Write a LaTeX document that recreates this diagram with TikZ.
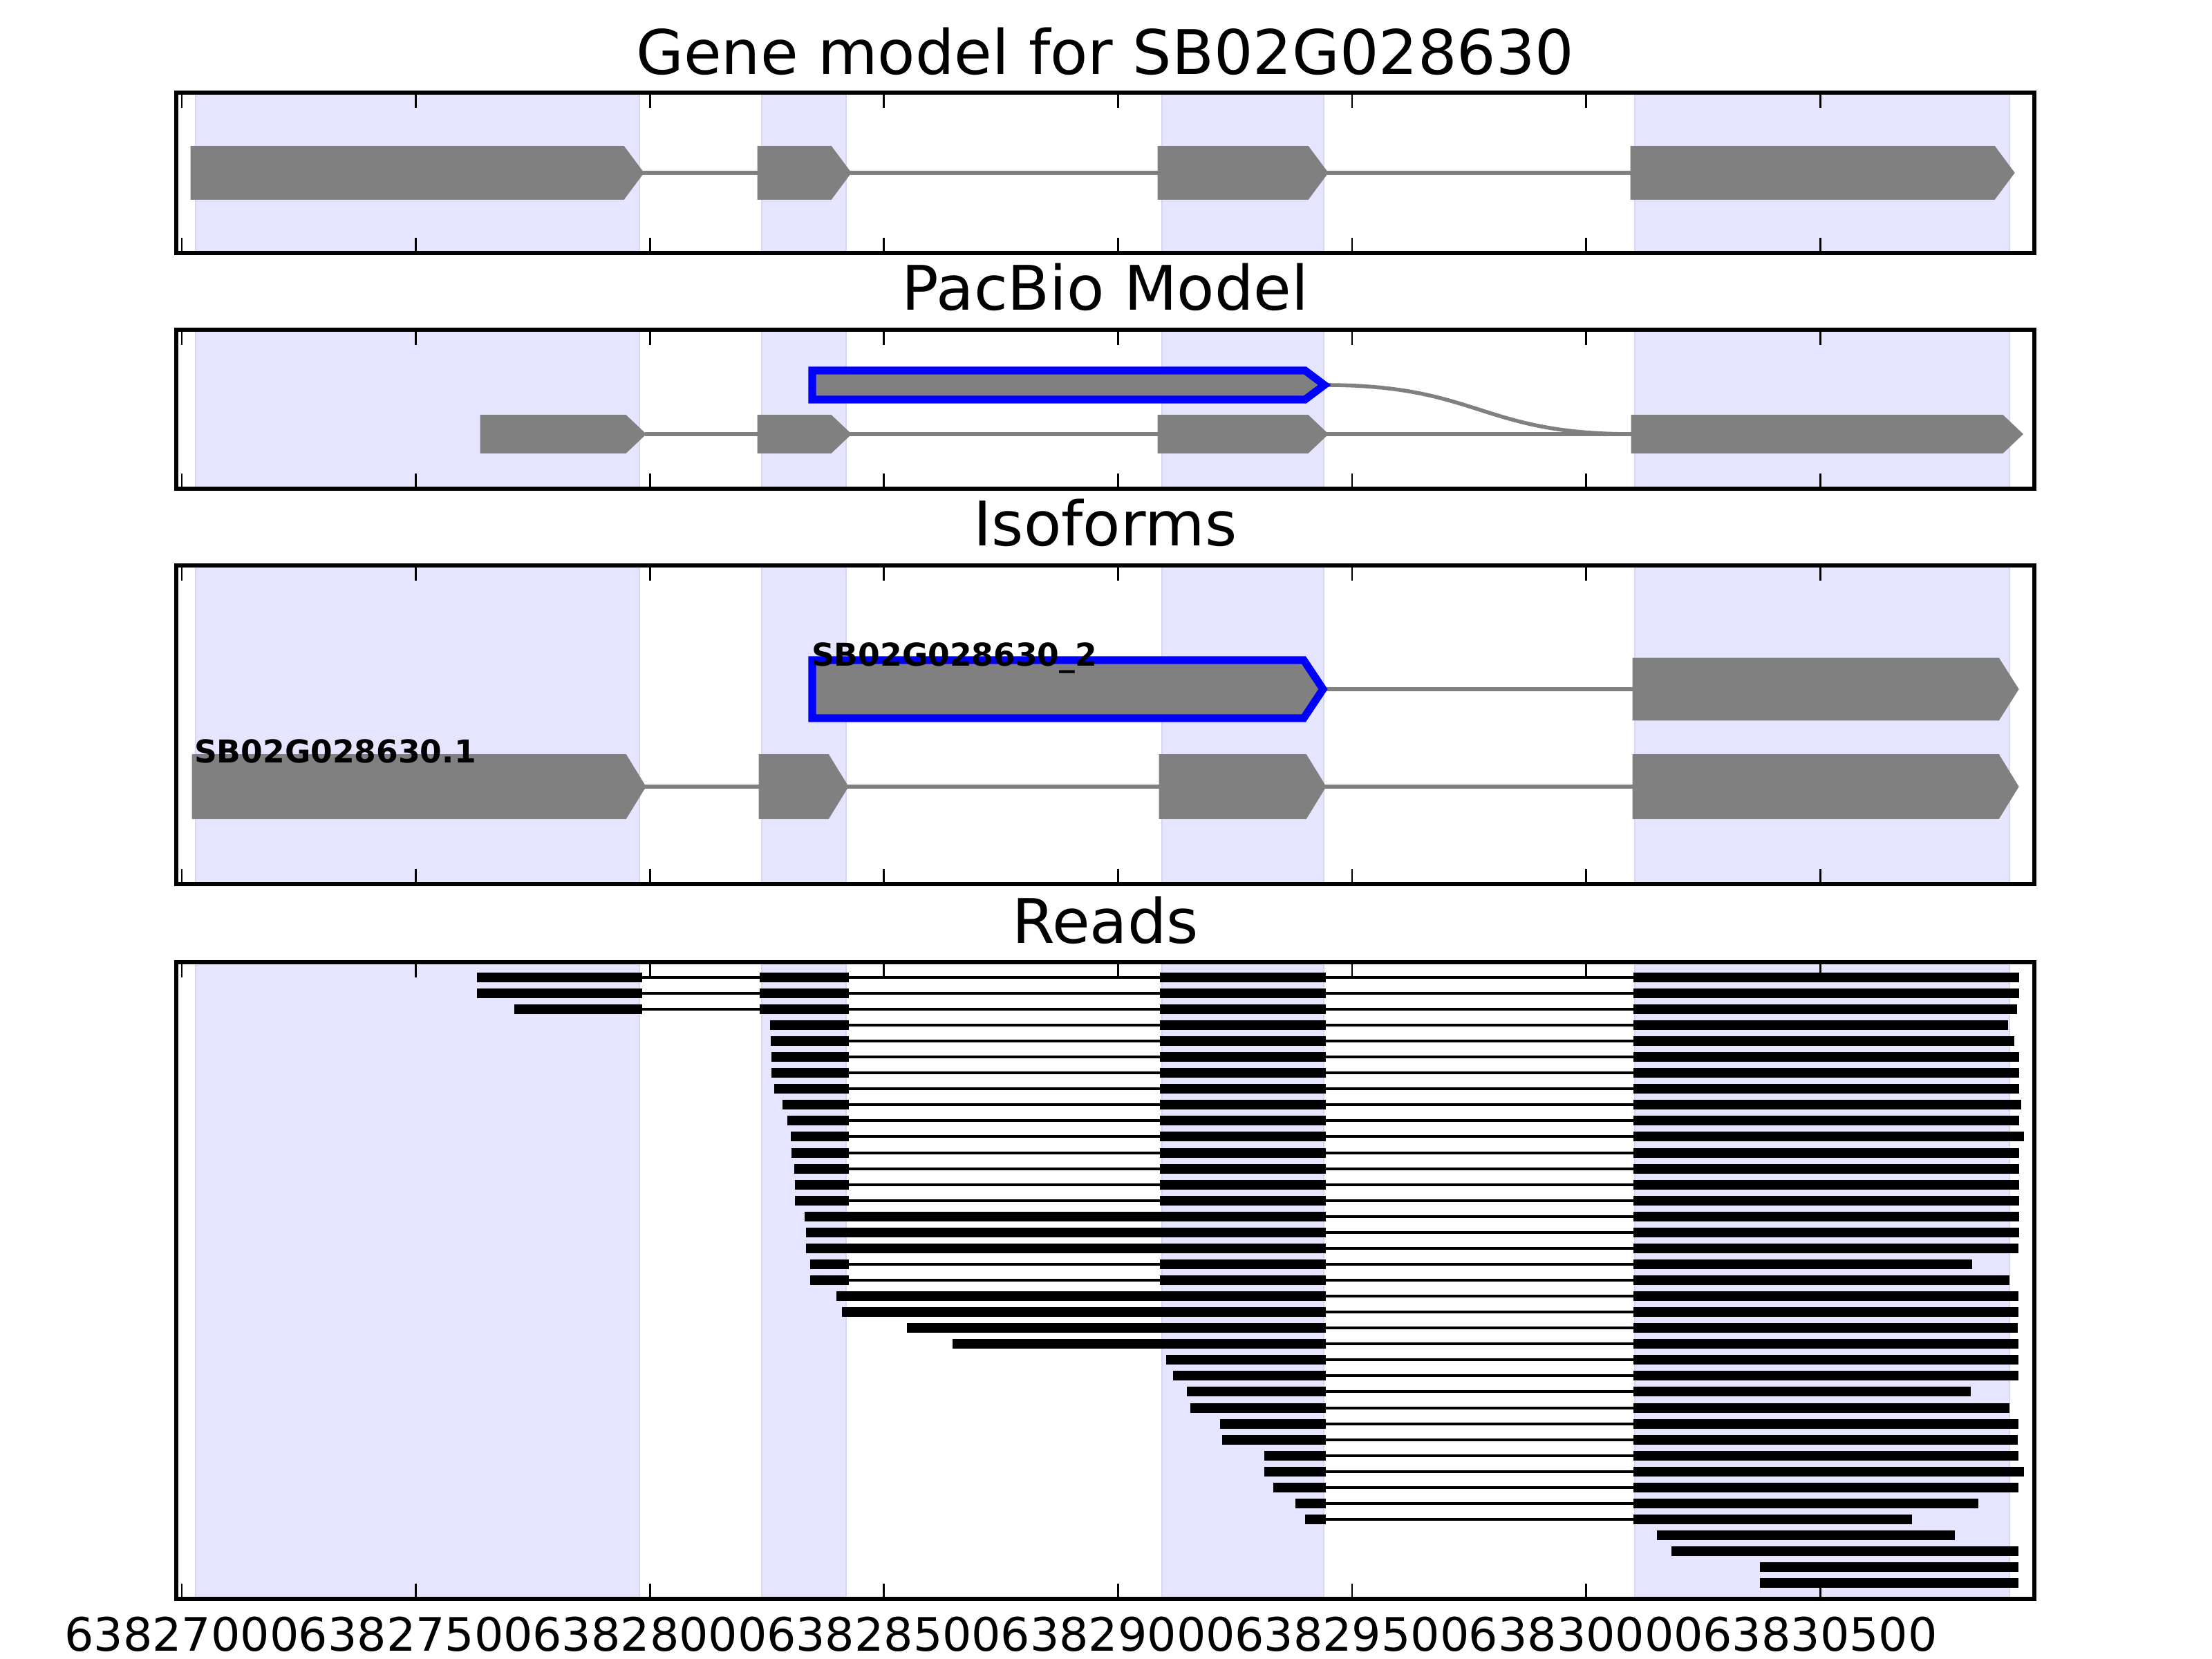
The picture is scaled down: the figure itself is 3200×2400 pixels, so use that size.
\documentclass[tikz,border=0pt]{standalone}
\usepackage{fontspec}
\setmainfont{DejaVu Sans}

\definecolor{spanblue}{RGB}{229,229,255}
\definecolor{spanedge}{RGB}{214,214,240}
\definecolor{exongray}{RGB}{128,128,128}

% exon arrow: [style] start, tip, centre y, half height
\newcommand{\geneexon}[5][exon]{%
  \filldraw[#1] (#2,#4-#5) -- (#3-28,#4-#5) -- (#3,#4) -- (#3-28,#4+#5) -- (#2,#4+#5) -- cycle;}

% shaded exon spans and ticks of one panel: top y, bottom y
\newcommand{\panelback}[2]{%
  \foreach \a/\b in {283/925,1102/1224,1681/1915,2365/2907}
    {\filldraw[exonspan] (\a,#1) rectangle (\b,#2);}
  \foreach \k in {0,...,7}
    {\draw[axistick] (263+338.6*\k,#1) -- ++(0,22);
     \draw[axistick] (263+338.6*\k,#2) -- ++(0,-22);}}

% one read: y, gap line from, gap line to, blocks
\newcommand{\readrow}[4]{%
  \draw[readline] (#2,#1) -- (#3,#1);
  \foreach \a/\b in {#4} {\fill[readbar] (\a,#1-7) rectangle (\b,#1+7);}}
\newcommand{\shortread}[3]{\fill[readbar] (#2,#1-7) rectangle (#3,#1+7);}

\begin{document}
\begin{tikzpicture}[
  x=0.18bp, y=-0.18bp,
  exonspan/.style={fill=spanblue, draw=spanedge, line width=0.5bp},
  exon/.style={fill=exongray, draw=exongray, line width=0.5bp},
  pacbio/.style={fill=exongray, draw=blue, line width=2bp},
  intron/.style={draw=exongray, line width=1bp},
  readbar/.style={fill=black},
  readline/.style={draw=black, line width=0.8bp},
  panelframe/.style={draw=black, line width=1bp},
  axistick/.style={draw=black, line width=0.5bp},
  paneltitle/.style={font=\fontsize{16bp}{19bp}\selectfont, anchor=base, inner sep=0pt},
  ticklabel/.style={font=\fontsize{12bp}{14bp}\selectfont, anchor=north, inner sep=0pt},
  isolabel/.style={font=\fontsize{8.2bp}{10bp}\selectfont\bfseries, anchor=base west, inner sep=0pt}
]
\useasboundingbox (0,0) rectangle (3200,2400);

% ============================================================
% Panel 1: gene model
% ============================================================

\node[paneltitle] (titlegene) at (1599,108) {Gene model for SB02G028630};
\panelback{134}{366}
\draw[intron] (930,250) -- (2360,250);
\geneexon{277}{930}{250}{37.5}
\geneexon{1097}{1230}{250}{37.5}
\geneexon{1676}{1920}{250}{37.5}
\geneexon{2360}{2913}{250}{37.5}
\draw[panelframe] (255,134) rectangle (2943,366);

% ============================================================
% Panel 2: PacBio model
% ============================================================

\node[paneltitle] (titlepacbio) at (1599,449) {PacBio Model};
\panelback{477}{707}
\draw[intron] (933,628) -- (2361,628);
\draw[intron] (1916,557) .. controls (2140,557) and (2140,628) .. (2361,628);
\geneexon[pacbio]{1175}{1916}{557}{21}
\geneexon{696}{933}{628}{26.5}
\geneexon{1097}{1230}{628}{26.5}
\geneexon{1676}{1920}{628}{26.5}
\geneexon{2361}{2925}{628}{26.5}
\draw[panelframe] (255,477) rectangle (2943,707);

% ============================================================
% Panel 3: isoforms
% ============================================================

\node[paneltitle] (titleiso) at (1599,790) {Isoforms};
\panelback{818}{1279}
\draw[intron] (1914,997) -- (2363,997);
\geneexon[pacbio]{1175}{1914}{997}{42}
\geneexon{2363}{2919}{997}{44}
\draw[intron] (933,1138) -- (2363,1138);
\geneexon{279}{933}{1138}{45.5}
\geneexon{1099}{1226}{1138}{45.5}
\geneexon{1678}{1917}{1138}{45.5}
\geneexon{2363}{2919}{1138}{45.5}
\node[isolabel] (isoshort) at (1173,964) {SB02G028630\_2};
\node[isolabel] (isolong) at (280,1104) {SB02G028630.1};
\draw[panelframe] (255,818) rectangle (2943,1279);

% ============================================================
% Panel 4: reads
% ============================================================

\node[paneltitle] (titlereads) at (1599,1365) {Reads};
\panelback{1392}{2313}

% full length reads
\readrow{1414}{929}{2363}{690/929,1099/1228,1678/1918,2363/2921}
\readrow{1437}{929}{2363}{690/929,1099/1228,1678/1918,2363/2921}
\readrow{1460}{929}{2363}{744/929,1099/1228,1678/1918,2363/2918}

% reads from exon 2
\readrow{1483}{1228}{2363}{1114/1228,1678/1918,2363/2905}
\readrow{1506}{1228}{2363}{1115/1228,1678/1918,2363/2914}
\readrow{1529}{1228}{2363}{1116/1228,1678/1918,2363/2921}
\readrow{1552}{1228}{2363}{1116/1228,1678/1918,2363/2921}
\readrow{1575}{1228}{2363}{1120/1228,1678/1918,2363/2921}
\readrow{1598}{1228}{2363}{1132/1228,1678/1918,2363/2924}
\readrow{1621}{1228}{2363}{1139/1228,1678/1918,2363/2921}
\readrow{1644}{1228}{2363}{1144/1228,1678/1918,2363/2928}
\readrow{1668}{1228}{2363}{1145/1228,1678/1918,2363/2921}
\readrow{1691}{1228}{2363}{1149/1228,1678/1918,2363/2921}
\readrow{1714}{1228}{2363}{1150/1228,1678/1918,2363/2921}
\readrow{1737}{1228}{2363}{1150/1228,1678/1918,2363/2921}

% retained intron reads
\readrow{1760}{1918}{2363}{1164/1918,2363/2921}
\readrow{1783}{1918}{2363}{1166/1918,2363/2921}
\readrow{1806}{1918}{2363}{1166/1918,2363/2920}
\readrow{1829}{1228}{2363}{1172/1228,1678/1918,2363/2853}
\readrow{1852}{1228}{2363}{1172/1228,1678/1918,2363/2907}
\readrow{1875}{1918}{2363}{1210/1918,2363/2920}
\readrow{1898}{1918}{2363}{1218/1918,2363/2920}
\readrow{1921}{1918}{2363}{1312/1918,2363/2919}
\readrow{1944}{1918}{2363}{1378/1918,2363/2920}

% reads from exon 3
\readrow{1967}{1918}{2363}{1687/1918,2363/2920}
\readrow{1990}{1918}{2363}{1697/1918,2363/2920}
\readrow{2013}{1918}{2363}{1717/1918,2363/2851}
\readrow{2037}{1918}{2363}{1722/1918,2363/2907}
\readrow{2060}{1918}{2363}{1765/1918,2363/2920}
\readrow{2083}{1918}{2363}{1768/1918,2363/2919}
\readrow{2106}{1918}{2363}{1829/1918,2363/2920}
\readrow{2129}{1918}{2363}{1829/1918,2363/2928}
\readrow{2152}{1918}{2363}{1842/1918,2363/2920}
\readrow{2175}{1918}{2363}{1874/1918,2363/2862}
\readrow{2198}{1918}{2363}{1888/1918,2363/2766}

% reads in exon 4 only
\shortread{2221}{2397}{2828}
\shortread{2244}{2418}{2920}
\shortread{2267}{2546}{2920}
\shortread{2290}{2546}{2920}

\draw[panelframe] (255,1392) rectangle (2943,2313);

% x axis labels
\foreach \k/\lab in {0/63827000,1/63827500,2/63828000,3/63828500,
                     4/63829000,5/63829500,6/63830000,7/63830500}
  {\node[ticklabel] (xlab\k) at (263+338.6*\k,2338) {\lab};}

\end{tikzpicture}
\end{document}
